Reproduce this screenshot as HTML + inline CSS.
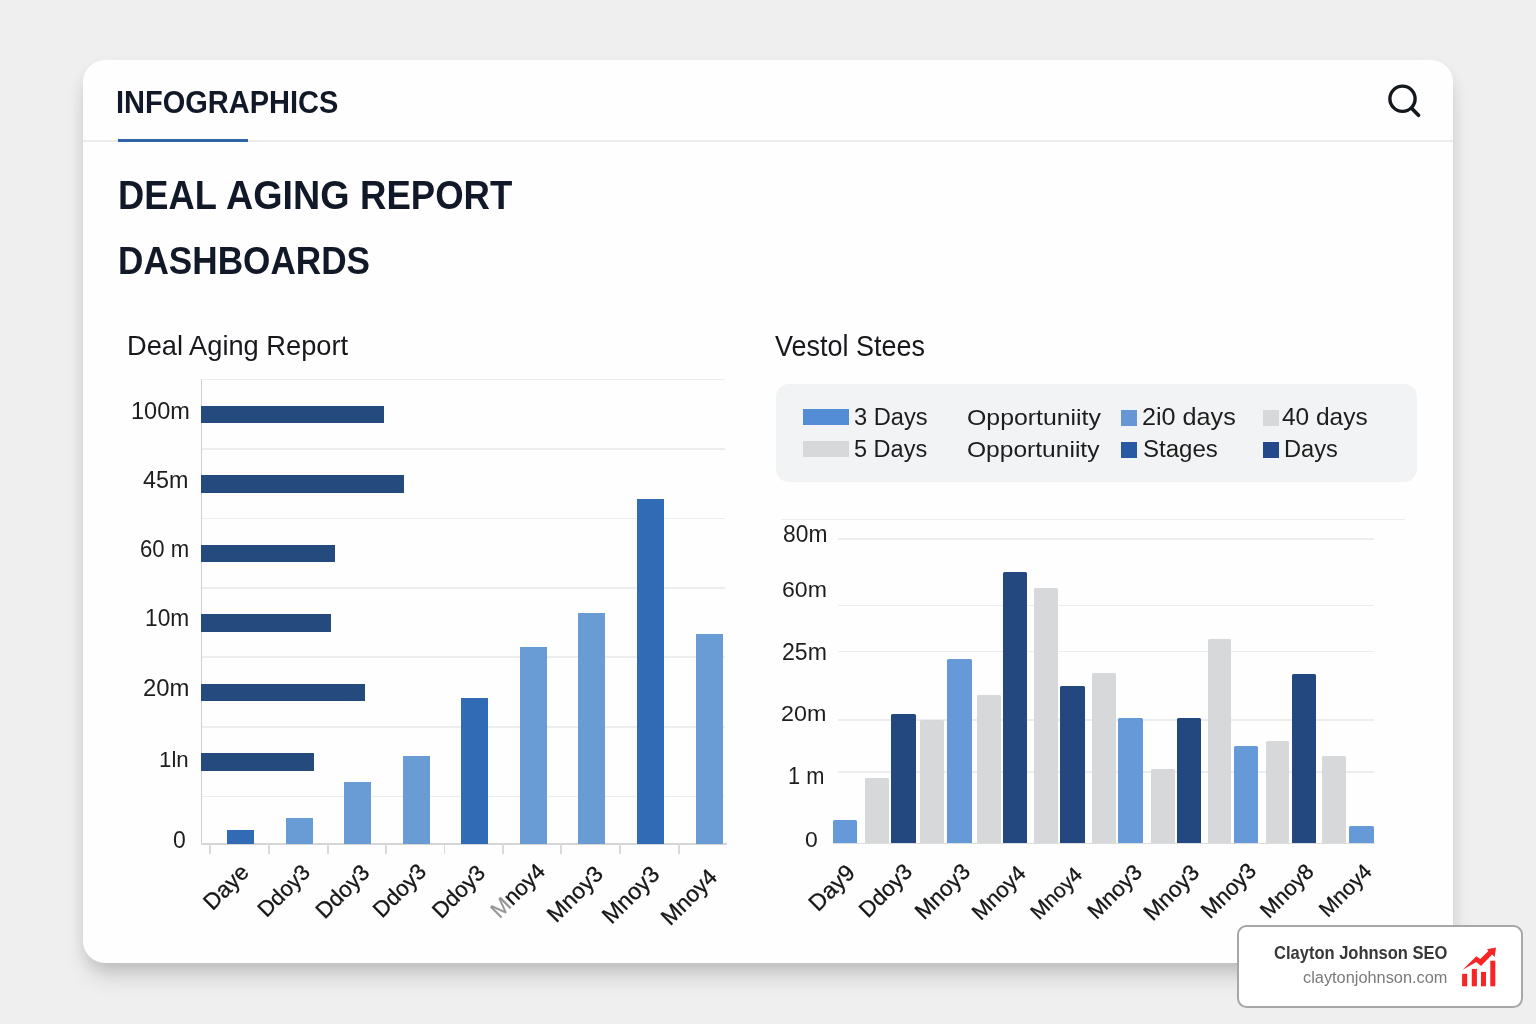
<!DOCTYPE html>
<html><head><meta charset="utf-8"><title>Deal Aging Report Dashboards</title>
<style>
*{margin:0;padding:0;box-sizing:border-box}
html,body{width:1536px;height:1024px;overflow:hidden;background:#efefef;font-family:"Liberation Sans",sans-serif;color:#1b1b1b}
.abs,.abs *{position:absolute}
.t{position:absolute;white-space:nowrap;line-height:1;transform-origin:left top}
.card{position:absolute;left:83px;top:60px;width:1370px;height:903px;background:#fefefe;border-radius:22px;
 box-shadow:0 16px 24px -6px rgba(0,0,0,.19),0 6px 16px rgba(0,0,0,.07)}
.r{position:absolute}
.xl{position:absolute;white-space:nowrap;line-height:1;color:#161616;-webkit-text-stroke:0.3px #161616;transform:translate(-50%,-50%) rotate(-45deg)}
</style></head><body>
<div id="layer" style="position:absolute;left:0;top:0;width:1536px;height:1024px;will-change:transform">
<div class="card"></div>

<div class="t" style="left:116.11px;top:87.02px;font-size:31.57px;font-weight:700;color:#111827;transform:scaleX(0.9190);">INFOGRAPHICS</div>
<div class="r" style="left:83.00px;top:140.20px;width:1370.00px;height:1.50px;background:#ebecee;"></div>
<div class="r" style="left:118.30px;top:138.70px;width:129.70px;height:3.30px;background:#2f63a8;"></div>
<svg class="r" style="left:1380px;top:76px" width="48" height="48" viewBox="1380 76 48 48"><circle cx="1402.5" cy="98.75" r="12.6" fill="none" stroke="#14171c" stroke-width="3.4"/><path d="M1411.6 108.2 L1418.5 115.2" stroke="#14171c" stroke-width="3.7" stroke-linecap="round"/></svg>
<div class="t" style="left:117.64px;top:175.03px;font-size:40.43px;font-weight:700;color:#111827;transform:scaleX(0.8979);">DEAL</div>
<div class="t" style="left:226.26px;top:174.80px;font-size:40.71px;font-weight:700;color:#111827;transform:scaleX(0.9262);">AGING</div>
<div class="t" style="left:360.12px;top:174.80px;font-size:40.71px;font-weight:700;color:#111827;transform:scaleX(0.8978);">REPORT</div>
<div class="t" style="left:117.61px;top:241.46px;font-size:39.57px;font-weight:700;color:#111827;transform:scaleX(0.8889);">DASHBOARDS</div>
<div class="t" style="left:127.02px;top:331.29px;font-size:28.41px;font-weight:400;color:#17181c;transform:scaleX(0.9590);">Deal Aging Report</div>
<div class="t" style="left:774.87px;top:330.67px;font-size:29.38px;font-weight:400;color:#17181c;transform:scaleX(0.9177);">Vestol Stees</div>
<div class="r" style="left:201.00px;top:378.70px;width:524.00px;height:1.60px;background:#ecedef;"></div>
<div class="r" style="left:201.00px;top:448.20px;width:524.00px;height:1.60px;background:#ecedef;"></div>
<div class="r" style="left:201.00px;top:517.70px;width:524.00px;height:1.60px;background:#ecedef;"></div>
<div class="r" style="left:201.00px;top:587.20px;width:524.00px;height:1.60px;background:#ecedef;"></div>
<div class="r" style="left:201.00px;top:656.20px;width:524.00px;height:1.60px;background:#ecedef;"></div>
<div class="r" style="left:201.00px;top:726.20px;width:524.00px;height:1.60px;background:#ecedef;"></div>
<div class="r" style="left:201.00px;top:795.50px;width:524.00px;height:1.60px;background:#ecedef;"></div>
<div class="r" style="left:200.50px;top:379.00px;width:1.30px;height:465.00px;background:#cdd0d8;"></div>
<div class="r" style="left:201.00px;top:843.00px;width:526.00px;height:1.80px;background:#d4d5d7;"></div>
<div class="r" style="left:209.10px;top:844.00px;width:1.80px;height:9.80px;background:#d9dadc;"></div>
<div class="r" style="left:268.30px;top:844.00px;width:1.80px;height:9.80px;background:#d9dadc;"></div>
<div class="r" style="left:326.80px;top:844.00px;width:1.80px;height:9.80px;background:#d9dadc;"></div>
<div class="r" style="left:385.00px;top:844.00px;width:1.80px;height:9.80px;background:#d9dadc;"></div>
<div class="r" style="left:443.70px;top:844.00px;width:1.80px;height:9.80px;background:#d9dadc;"></div>
<div class="r" style="left:501.90px;top:844.00px;width:1.80px;height:9.80px;background:#d9dadc;"></div>
<div class="r" style="left:560.40px;top:844.00px;width:1.80px;height:9.80px;background:#d9dadc;"></div>
<div class="r" style="left:619.30px;top:844.00px;width:1.80px;height:9.80px;background:#d9dadc;"></div>
<div class="r" style="left:677.90px;top:844.00px;width:1.80px;height:9.80px;background:#d9dadc;"></div>
<div class="r" style="left:200.80px;top:405.50px;width:182.90px;height:17.60px;background:#254a7e;"></div>
<div class="r" style="left:200.80px;top:475.00px;width:203.70px;height:17.60px;background:#254a7e;"></div>
<div class="r" style="left:200.80px;top:544.50px;width:134.20px;height:17.60px;background:#254a7e;"></div>
<div class="r" style="left:200.80px;top:614.00px;width:130.20px;height:17.60px;background:#254a7e;"></div>
<div class="r" style="left:200.80px;top:683.50px;width:164.40px;height:17.60px;background:#254a7e;"></div>
<div class="r" style="left:200.80px;top:753.00px;width:113.50px;height:17.60px;background:#254a7e;"></div>
<div class="t" style="left:130.93px;top:400.04px;font-size:23.14px;font-weight:400;color:#1d1d1d;transform:scaleX(1.0180);">100m</div>
<div class="t" style="left:143.12px;top:468.76px;font-size:23.48px;font-weight:400;color:#1d1d1d;transform:scaleX(0.9942);">45m</div>
<div class="t" style="left:140.09px;top:538.30px;font-size:23.43px;font-weight:400;color:#1d1d1d;transform:scaleX(0.9449);">60 m</div>
<div class="t" style="left:144.60px;top:607.36px;font-size:23.00px;font-weight:400;color:#1d1d1d;transform:scaleX(0.9876);">10m</div>
<div class="t" style="left:142.71px;top:676.80px;font-size:23.43px;font-weight:400;color:#1d1d1d;transform:scaleX(1.0193);">20m</div>
<div class="t" style="left:159.33px;top:748.25px;font-size:22.90px;font-weight:400;color:#1d1d1d;transform:scaleX(0.9722);">1ln</div>
<div class="t" style="left:172.78px;top:829.36px;font-size:23.00px;font-weight:400;color:#1d1d1d;transform:scaleX(0.9977);">0</div>
<div class="r" style="left:227.00px;top:830.00px;width:27.20px;height:14.00px;background:#316ab5;"></div>
<div class="r" style="left:285.60px;top:818.20px;width:27.10px;height:25.80px;background:#699bd5;"></div>
<div class="r" style="left:344.20px;top:782.00px;width:27.00px;height:62.00px;background:#699bd5;"></div>
<div class="r" style="left:402.70px;top:756.20px;width:27.00px;height:87.80px;background:#699bd5;"></div>
<div class="r" style="left:460.80px;top:698.20px;width:27.20px;height:145.80px;background:#316ab5;"></div>
<div class="r" style="left:519.50px;top:646.50px;width:27.00px;height:197.50px;background:#699bd5;"></div>
<div class="r" style="left:578.20px;top:612.50px;width:27.00px;height:231.50px;background:#699bd5;"></div>
<div class="r" style="left:636.50px;top:499.20px;width:27.20px;height:344.80px;background:#316ab5;"></div>
<div class="r" style="left:695.50px;top:633.50px;width:27.00px;height:210.50px;background:#699bd5;"></div>
<div class="xl" style="left:226.34px;top:887.03px;font-size:22.79px">Daye</div>
<div class="xl" style="left:284.19px;top:890.78px;font-size:21.91px">Ddoy3</div>
<div class="xl" style="left:342.60px;top:892.08px;font-size:22.46px">Ddoy3</div>
<div class="xl" style="left:400.40px;top:891.28px;font-size:22.34px">Ddoy3</div>
<div class="xl" style="left:458.55px;top:892.27px;font-size:22.20px">Ddoy3</div>
<div class="xl" style="left:518.17px;top:891.01px;font-size:22.03px"><span style="opacity:.45">M</span>noy4</div>
<div class="xl" style="left:574.71px;top:893.62px;font-size:22.73px">Mnoy3</div>
<div class="xl" style="left:631.47px;top:894.60px;font-size:23.24px">Mnoy3</div>
<div class="xl" style="left:689.48px;top:896.94px;font-size:22.76px">Mnoy4</div>
<div class="r" style="left:776.30px;top:383.80px;width:641.20px;height:98.70px;background:#f2f3f4;border-radius:13px;"></div>
<div class="r" style="left:802.90px;top:408.50px;width:46.20px;height:16.70px;background:#528dd6;"></div>
<div class="r" style="left:802.90px;top:441.10px;width:46.20px;height:16.40px;background:#d7d8da;"></div>
<div class="r" style="left:1121.30px;top:410.00px;width:16.20px;height:15.80px;background:#6696d4;"></div>
<div class="r" style="left:1121.30px;top:441.80px;width:16.20px;height:15.80px;background:#2a59a3;"></div>
<div class="r" style="left:1262.50px;top:410.00px;width:16.30px;height:15.80px;background:#d7d8da;"></div>
<div class="r" style="left:1262.50px;top:441.80px;width:16.30px;height:15.80px;background:#24498a;"></div>
<div class="t" style="left:853.65px;top:405.56px;font-size:23.71px;font-weight:400;color:#1d1d1d;transform:scaleX(0.9990);">3 Days</div>
<div class="t" style="left:853.66px;top:437.54px;font-size:23.62px;font-weight:400;color:#1d1d1d;transform:scaleX(0.9959);">5 Days</div>
<div class="t" style="left:966.98px;top:406.25px;font-size:22.90px;font-weight:400;color:#1d1d1d;transform:scaleX(1.0853);">Opportuniity</div>
<div class="t" style="left:966.99px;top:438.50px;font-size:22.48px;font-weight:400;color:#1d1d1d;transform:scaleX(1.0936);">Opportuniity</div>
<div class="t" style="left:1142.04px;top:405.67px;font-size:23.59px;font-weight:400;color:#1d1d1d;transform:scaleX(1.0681);">2i0 days</div>
<div class="t" style="left:1142.72px;top:437.58px;font-size:23.57px;font-weight:400;color:#1d1d1d;transform:scaleX(1.0207);">Stages</div>
<div class="t" style="left:1282.29px;top:405.67px;font-size:23.59px;font-weight:400;color:#1d1d1d;transform:scaleX(1.0378);">40 days</div>
<div class="t" style="left:1284.11px;top:437.54px;font-size:23.62px;font-weight:400;color:#1d1d1d;transform:scaleX(1.0014);">Days</div>
<div class="r" style="left:780.50px;top:518.50px;width:624.00px;height:1.60px;background:#ecedef;"></div>
<div class="r" style="left:838.00px;top:538.00px;width:536.00px;height:1.60px;background:#ecedef;"></div>
<div class="r" style="left:838.00px;top:604.50px;width:536.00px;height:1.60px;background:#ecedef;"></div>
<div class="r" style="left:838.00px;top:650.70px;width:536.00px;height:1.60px;background:#ecedef;"></div>
<div class="r" style="left:838.00px;top:719.00px;width:536.00px;height:1.60px;background:#ecedef;"></div>
<div class="r" style="left:838.00px;top:771.00px;width:536.00px;height:1.60px;background:#ecedef;"></div>
<div class="r" style="left:833.00px;top:842.60px;width:542.00px;height:1.80px;background:#dcdddf;"></div>
<div class="t" style="left:782.57px;top:522.54px;font-size:23.14px;font-weight:400;color:#1d1d1d;transform:scaleX(0.9866);">80m</div>
<div class="t" style="left:782.45px;top:578.41px;font-size:22.71px;font-weight:400;color:#1d1d1d;transform:scaleX(1.0152);">60m</div>
<div class="t" style="left:781.65px;top:640.56px;font-size:23.00px;font-weight:400;color:#1d1d1d;transform:scaleX(1.0026);">25m</div>
<div class="t" style="left:780.83px;top:701.91px;font-size:22.71px;font-weight:400;color:#1d1d1d;transform:scaleX(1.0273);">20m</div>
<div class="t" style="left:787.76px;top:763.52px;font-size:23.77px;font-weight:400;color:#1d1d1d;transform:scaleX(0.9187);">1 m</div>
<div class="t" style="left:804.58px;top:829.31px;font-size:22.00px;font-weight:400;color:#1d1d1d;transform:scaleX(1.0431);">0</div>
<div class="r" style="left:832.80px;top:820.30px;width:24.20px;height:23.10px;background:#6699d8;border-radius:1.5px 1.5px 0 0;"></div>
<div class="r" style="left:864.50px;top:777.80px;width:24.30px;height:65.60px;background:#d7d8da;border-radius:1.5px 1.5px 0 0;"></div>
<div class="r" style="left:891.00px;top:713.80px;width:24.50px;height:129.60px;background:#234880;border-radius:1.5px 1.5px 0 0;"></div>
<div class="r" style="left:920.00px;top:720.00px;width:24.30px;height:123.40px;background:#d7d8da;border-radius:1.5px 1.5px 0 0;"></div>
<div class="r" style="left:947.00px;top:658.50px;width:24.80px;height:184.90px;background:#6699d8;border-radius:1.5px 1.5px 0 0;"></div>
<div class="r" style="left:976.50px;top:694.50px;width:24.30px;height:148.90px;background:#d7d8da;border-radius:1.5px 1.5px 0 0;"></div>
<div class="r" style="left:1002.50px;top:571.50px;width:24.80px;height:271.90px;background:#234880;border-radius:1.5px 1.5px 0 0;"></div>
<div class="r" style="left:1034.00px;top:587.50px;width:24.00px;height:255.90px;background:#d7d8da;border-radius:1.5px 1.5px 0 0;"></div>
<div class="r" style="left:1060.30px;top:685.50px;width:24.50px;height:157.90px;background:#234880;border-radius:1.5px 1.5px 0 0;"></div>
<div class="r" style="left:1092.00px;top:672.80px;width:24.00px;height:170.60px;background:#d7d8da;border-radius:1.5px 1.5px 0 0;"></div>
<div class="r" style="left:1118.30px;top:718.00px;width:24.50px;height:125.40px;background:#6699d8;border-radius:1.5px 1.5px 0 0;"></div>
<div class="r" style="left:1150.60px;top:768.70px;width:24.40px;height:74.70px;background:#d7d8da;border-radius:1.5px 1.5px 0 0;"></div>
<div class="r" style="left:1176.50px;top:718.00px;width:24.80px;height:125.40px;background:#234880;border-radius:1.5px 1.5px 0 0;"></div>
<div class="r" style="left:1207.50px;top:639.00px;width:23.80px;height:204.40px;background:#d7d8da;border-radius:1.5px 1.5px 0 0;"></div>
<div class="r" style="left:1233.80px;top:745.80px;width:24.50px;height:97.60px;background:#6699d8;border-radius:1.5px 1.5px 0 0;"></div>
<div class="r" style="left:1265.50px;top:740.80px;width:23.80px;height:102.60px;background:#d7d8da;border-radius:1.5px 1.5px 0 0;"></div>
<div class="r" style="left:1292.00px;top:674.00px;width:24.30px;height:169.40px;background:#234880;border-radius:1.5px 1.5px 0 0;"></div>
<div class="r" style="left:1321.50px;top:756.30px;width:24.40px;height:87.10px;background:#d7d8da;border-radius:1.5px 1.5px 0 0;"></div>
<div class="r" style="left:1349.00px;top:826.00px;width:25.00px;height:17.40px;background:#6699d8;border-radius:1.5px 1.5px 0 0;"></div>
<div class="xl" style="left:831.89px;top:887.74px;font-size:23.21px">Day9</div>
<div class="xl" style="left:886.30px;top:890.78px;font-size:22.30px">Ddoy3</div>
<div class="xl" style="left:942.84px;top:892.28px;font-size:22.43px">Mnoy3</div>
<div class="xl" style="left:998.87px;top:893.41px;font-size:21.91px">Mnoy4</div>
<div class="xl" style="left:1055.66px;top:893.23px;font-size:21.10px">Mnoy4</div>
<div class="xl" style="left:1114.50px;top:892.18px;font-size:22.02px">Mnoy3</div>
<div class="xl" style="left:1171.85px;top:892.77px;font-size:22.60px">Mnoy3</div>
<div class="xl" style="left:1229.29px;top:891.38px;font-size:22.37px">Mnoy3</div>
<div class="xl" style="left:1287.29px;top:890.79px;font-size:21.81px">Mnoy8</div>
<div class="xl" style="left:1346.26px;top:890.63px;font-size:21.38px">Mnoy4</div>
<div class="r" style="left:1236.5px;top:925px;width:286px;height:83px;background:#fff;border:2px solid #a7a7a7;border-radius:9.5px"></div>
<div class="t" style="left:1273.54px;top:944.90px;font-size:17.52px;font-weight:700;color:#383838;transform:scaleX(0.9429);">Clayton Johnson SEO</div>
<div class="t" style="left:1302.96px;top:970.13px;font-size:15.59px;font-weight:400;color:#7a7a7a;transform:scaleX(1.0486);">claytonjohnson.com</div>
<svg class="r" style="left:1458px;top:944px" width="42" height="46" viewBox="1458 944 42 46">
<g fill="#f72525"><rect x="1462.1" y="973.8" width="5.1" height="12.5"/><rect x="1471.8" y="968.9" width="5.1" height="17.4"/><rect x="1481" y="971.9" width="5" height="14.4"/><rect x="1490.3" y="960.7" width="5" height="25.6"/>
<path d="M1462.7 969.7 L1476.3 956.3 L1480.2 959.1 L1488.4 951.1 L1487.0 949.2 L1496.0 947.4 L1494.7 956.9 L1492.2 954.4 L1481 965.9 L1476.3 962.1 Z"/></g></svg>
</div></body></html>
